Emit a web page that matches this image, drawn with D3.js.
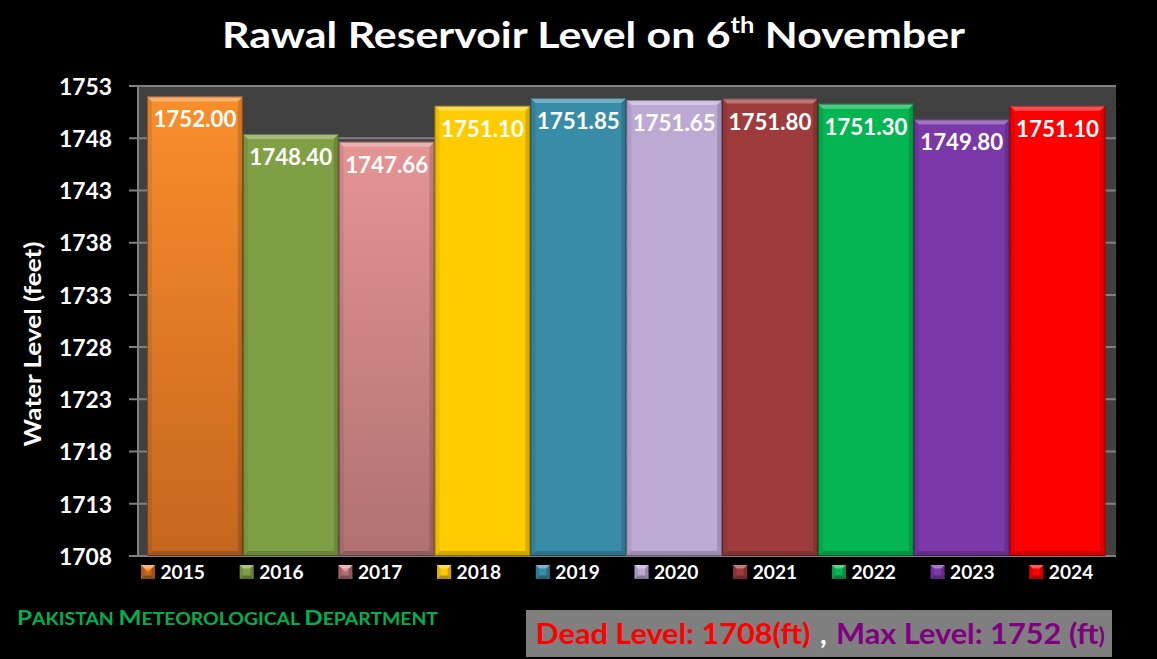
<!DOCTYPE html>
<html>
<head>
<meta charset="utf-8">
<script src="https://cdn.jsdelivr.net/npm/d3@7"></script>
<style>
  html, body { margin: 0; padding: 0; background: #000; }
  svg { display: block; }
  text { font-family: Lato, "Open Sans", sans-serif; font-weight: bold; }
</style>
</head>
<body>
<svg id="chart" width="1157" height="659"></svg>
<script>
// ---- data ----
const years = ["2015", "2016", "2017", "2018", "2019", "2020", "2021", "2022", "2023", "2024"];
const levels = [1752.00, 1748.40, 1747.66, 1751.10, 1751.85, 1751.65, 1751.80, 1751.30, 1749.80, 1751.10];
const labels = ["1752.00", "1748.40", "1747.66", "1751.10", "1751.85", "1751.65", "1751.80", "1751.30", "1749.80", "1751.10"];
const topColors = ["#f98e2c", "#80a045", "#e69494", "#ffcc00", "#398ca7", "#bdaad4", "#9e3c3c", "#05b552", "#7a38a8", "#ff0000"];
const bottomColors = ["#c5661f", "#80a045", "#b07171", "#ffcc00", "#398ca7", "#bdaad4", "#9e3c3c", "#05b552", "#7a38a8", "#ff0000"];
const yTicks = [1708, 1713, 1718, 1723, 1728, 1733, 1738, 1743, 1748, 1753];
const yDomain = [1708, 1753];

const svg = d3.select("#chart");
const W = 1157, H = 659;
svg.append("rect").attr("width", W).attr("height", H).attr("fill", "#000");

const plot = { left: 139, right: 1116, top: 86, bottom: 556 };
const x = d3.scaleBand().domain(years).range([147, 1105.5]).padding(0);
const y = d3.scaleLinear().domain(yDomain).range([plot.bottom, plot.top]);

// gradients
const defs = svg.append("defs");
years.forEach((yr, i) => {
  const g = defs.append("linearGradient").attr("id", "g" + yr)
    .attr("x1", 0).attr("y1", 0).attr("x2", 0).attr("y2", 1);
  g.append("stop").attr("offset", "0%").attr("stop-color", topColors[i]);
  g.append("stop").attr("offset", "100%").attr("stop-color", bottomColors[i]);
});

// plot background
svg.append("rect")
  .attr("x", plot.left).attr("y", plot.top)
  .attr("width", plot.right - plot.left).attr("height", plot.bottom - plot.top)
  .attr("fill", "#404040");

// gridlines
svg.append("g").selectAll("line").data(yTicks).join("line")
  .attr("x1", 129).attr("x2", plot.right)
  .attr("y1", d => y(d)).attr("y2", d => y(d))
  .attr("stroke", "#808080").attr("stroke-width", 2);

// axis line
svg.append("line").attr("x1", 138).attr("x2", 138)
  .attr("y1", plot.top).attr("y2", plot.bottom)
  .attr("stroke", "#808080").attr("stroke-width", 2);

// y tick labels via axis
const yAxis = d3.axisLeft(y).tickValues(yTicks).tickFormat(d3.format("d")).tickSize(0).tickPadding(0);
const ya = svg.append("g").attr("transform", "translate(112,0)").call(yAxis);
ya.select(".domain").remove();
ya.selectAll("text").attr("fill", "#fff").attr("font-size", 23)
  .attr("font-family", "Lato").attr("font-weight", "bold").attr("dy", "0.36em")
  .attr("textLength", 53).attr("lengthAdjust", "spacingAndGlyphs");

// bars with bevel
const b = 5;
const bars = svg.append("g").selectAll("g").data(years).join("g");
bars.each(function(yr, i) {
  const g = d3.select(this);
  const x0 = x(yr), x1 = x(yr) + x.bandwidth();
  const y0 = y(levels[i]), y1 = y(yDomain[0]);
  g.append("rect").attr("x", x0).attr("y", y0).attr("width", x1 - x0).attr("height", y1 - y0)
    .attr("fill", `url(#g${yr})`);
  // top bevel
  g.append("polygon").attr("points", [[x0, y0], [x1, y0], [x1 - b, y0 + b], [x0 + b, y0 + b]].join(" "))
    .attr("fill", "#fff").attr("opacity", 0.3);
  // left bevel
  g.append("polygon").attr("points", [[x0, y0], [x0 + b, y0 + b], [x0 + b, y1 - b], [x0, y1]].join(" "))
    .attr("fill", "#000").attr("opacity", 0.08);
  // right bevel
  g.append("polygon").attr("points", [[x1, y0], [x1 - b, y0 + b], [x1 - b, y1 - b], [x1, y1]].join(" "))
    .attr("fill", "#000").attr("opacity", 0.15);
  // bottom bevel
  g.append("polygon").attr("points", [[x0, y1], [x0 + b, y1 - b], [x1 - b, y1 - b], [x1, y1]].join(" "))
    .attr("fill", "#000").attr("opacity", 0.18);
  g.append("rect").attr("x", x0 + 0.5).attr("y", y0 + 0.5).attr("width", x1 - x0 - 1).attr("height", y1 - y0 - 1)
    .attr("fill", "none").attr("stroke", "#000").attr("stroke-opacity", 0.35).attr("stroke-width", 1);
  // value label
  g.append("text").attr("x", (x0 + x1) / 2).attr("y", y0 + 31)
    .attr("text-anchor", "middle").attr("fill", "#fff").attr("font-size", 22)
    .attr("textLength", 83).attr("lengthAdjust", "spacingAndGlyphs")
    .text(labels[i]);
});

// legend
const legendStart = 141, legendStep = 98.7, ms = 14, my = 565;
const leg = svg.append("g").selectAll("g").data(years).join("g")
  .attr("transform", (d, i) => `translate(${legendStart + i * legendStep},${my})`);
leg.each(function(yr, i) {
  const g = d3.select(this);
  const lb = 3.5;
  g.append("rect").attr("width", ms).attr("height", ms).attr("fill", bottomColors[i]);
  g.append("polygon").attr("points", [[0, 0], [ms, 0], [ms / 2, ms / 2]].join(" "))
    .attr("fill", topColors[i]);
  g.append("polygon").attr("points", [[0, 0], [ms, 0], [ms - lb, lb], [lb, lb]].join(" "))
    .attr("fill", "#fff").attr("opacity", 0.35);
  g.append("polygon").attr("points", [[0, ms], [lb, ms - lb], [ms - lb, ms - lb], [ms, ms]].join(" "))
    .attr("fill", "#000").attr("opacity", 0.3);
  g.append("polygon").attr("points", [[ms, 0], [ms - lb, lb], [ms - lb, ms - lb], [ms, ms]].join(" "))
    .attr("fill", "#000").attr("opacity", 0.2);
  g.append("polygon").attr("points", [[0, 0], [lb, lb], [lb, ms - lb], [0, ms]].join(" "))
    .attr("fill", "#000").attr("opacity", 0.12);
  g.append("text").attr("x", 19.5).attr("y", 13.5).attr("fill", "#fff").attr("font-size", 19)
    .attr("textLength", 44.5).attr("lengthAdjust", "spacingAndGlyphs").text(yr);
});

// title
const title = svg.append("text").attr("x", 593.5).attr("y", 48).attr("text-anchor", "middle")
  .attr("fill", "#fff").attr("font-size", 37)
  .attr("textLength", 743).attr("lengthAdjust", "spacingAndGlyphs");
title.append("tspan").text("Rawal Reservoir Level on 6");
title.append("tspan").attr("font-size", 22).attr("dy", -15).text("th");
title.append("tspan").attr("dy", 15).text(" November");

// y axis title
svg.append("text").attr("transform", "translate(41,344) rotate(-90)")
  .attr("text-anchor", "middle").attr("fill", "#fff").attr("font-size", 22)
  .attr("textLength", 205).attr("lengthAdjust", "spacingAndGlyphs")
  .text("Water Level  (feet)");

// footer left
const foot = svg.append("text").attr("x", 17).attr("y", 625).attr("fill", "#00b050")
  .attr("textLength", 421).attr("lengthAdjust", "spacingAndGlyphs");
[["P", 21], ["AKISTAN ", 16.7], ["M", 21], ["ETEOROLOGICAL ", 16.7], ["D", 21], ["EPARTMENT", 16.7]]
  .forEach(([t, s]) => foot.append("tspan").attr("font-size", s).text(t));

// footer right box
svg.append("rect").attr("x", 526).attr("y", 610).attr("width", 586).attr("height", 47).attr("fill", "#7f7f7f");
svg.append("text").attr("x", 535.5).attr("y", 644).attr("fill", "#ff0000").attr("font-size", 29)
  .attr("textLength", 275).attr("lengthAdjust", "spacingAndGlyphs").text("Dead Level: 1708(ft)");
svg.append("text").attr("x", 820).attr("y", 644).attr("fill", "#fff").attr("font-size", 29).text(",");
const mx = svg.append("text").attr("x", 836).attr("y", 644).attr("fill", "#800080").attr("font-size", 29)
  .attr("textLength", 269).attr("lengthAdjust", "spacingAndGlyphs");
mx.append("tspan").text("Max Level: 1752 (ft");
mx.append("tspan").attr("font-size", 22).text(")");
</script>
</body>
</html>
